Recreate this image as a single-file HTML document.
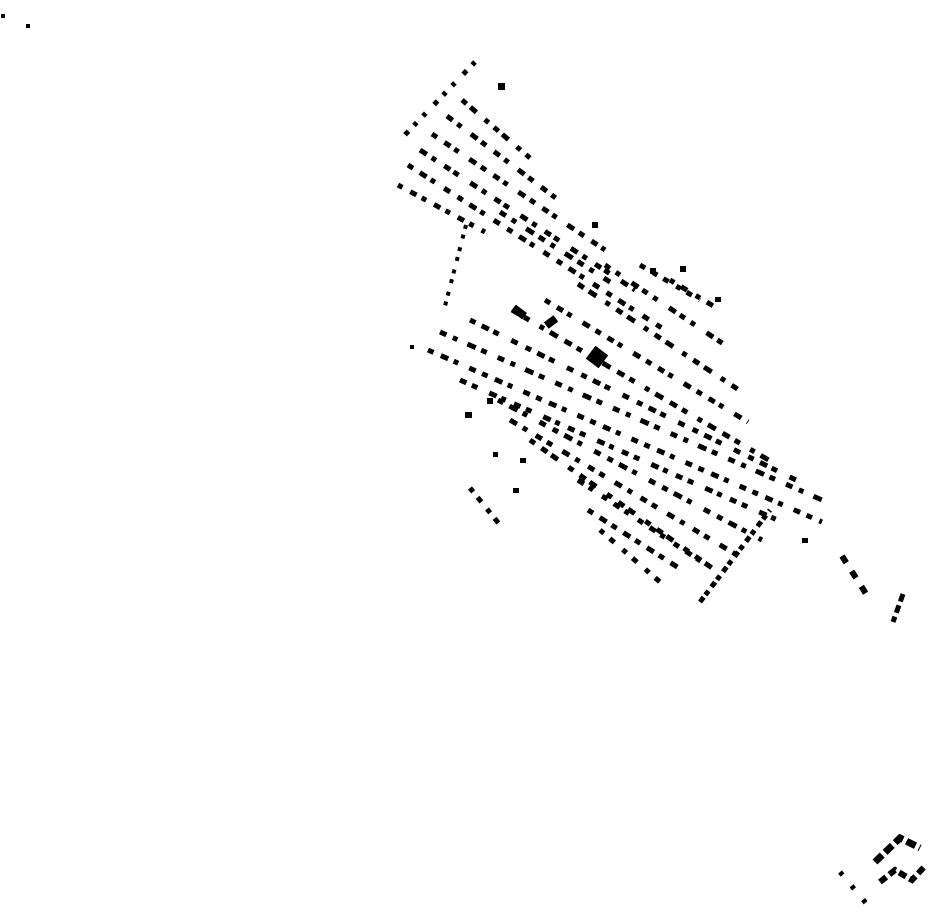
<!DOCTYPE html>
<html><head><meta charset="utf-8"><style>html,body{margin:0;padding:0;background:#fff}svg{display:block}</style></head>
<body>
<svg width="930" height="924" viewBox="0 0 930 924" xmlns="http://www.w3.org/2000/svg">
<g stroke="#000" fill="none" stroke-width="5">
 <!-- upper cluster -->
 <path d="M475 62 L400 140" stroke-dasharray="4 8 5 12 4 9"/>
 <path d="M462 100 L530 158" stroke-dasharray="6 5 8 11 5 7"/>
 <path d="M447 116 L565 205" stroke-dasharray="7 6 5 12 8 5 6 10"/>
 <path d="M432 134 L605 250" stroke-dasharray="6 9 7 5 5 13 8 6"/>
 <path d="M420 150 L635 290" stroke-dasharray="8 6 5 10 7 4 6 14"/>
 <path d="M408 165 L665 330" stroke-dasharray="6 8 8 5 5 11 7 9"/>
 <path d="M398 185 L485 232" stroke-dasharray="5 9 7 6"/>
 <path d="M466 225 L444 310" stroke-dasharray="4 6 4 9" stroke-width="4"/>
 <path d="M500 212 L610 282" stroke-dasharray="7 7 5 12 9 6"/>
 <!-- main cluster -->
 <path d="M605 265 L725 345" stroke-dasharray="6 7 5 14 8 5"/>
 <path d="M578 284 L742 392" stroke-dasharray="7 6 9 11 5 8"/>
 <path d="M545 300 L748 422" stroke-dasharray="6 8 7 5 5 13 8 7"/>
 <path d="M512 310 L772 462" stroke-dasharray="8 6 6 12 5 7 9 8"/>
 <path d="M470 320 L800 482" stroke-dasharray="6 7 8 5 6 14 7 9"/>
 <path d="M440 332 L822 500" stroke-dasharray="7 7 5 11 9 6 6 12"/>
 <path d="M428 350 L822 522" stroke-dasharray="6 8 8 6 5 12 7 7"/>
 <path d="M460 380 L782 522" stroke-dasharray="7 6 6 13 8 5 5 9"/>
 <path d="M498 400 L762 540" stroke-dasharray="6 7 9 6 5 14 7 8"/>
 <path d="M510 420 L742 558" stroke-dasharray="8 7 5 10 7 6 6 12"/>
 <path d="M530 440 L722 575" stroke-dasharray="6 8 7 5 8 13"/>
 <path d="M578 480 L702 562" stroke-dasharray="7 6 5 11 6 8"/>
 <path d="M588 510 L682 570" stroke-dasharray="6 8 8 6"/>
 <path d="M600 530 L660 582" stroke-dasharray="5 8 6 11"/>
 <path d="M700 602 L770 510" stroke-dasharray="6 3 5 5"/>
 <path d="M470 488 L500 525" stroke-dasharray="5 7 6 9"/>
 <path d="M640 265 L700 300" stroke-dasharray="6 9 5 7"/>
 <path d="M670 280 L720 310" stroke-dasharray="5 8 7 10"/>
 <path d="M842 556 L870 600" stroke-dasharray="8 10" stroke-width="6"/>
 <path d="M903 594 L893 622" stroke-dasharray="8 4"/>
 <!-- bottom right -->
 <path d="M875 862 L900 838 L920 848" stroke-dasharray="10 4" stroke-width="7"/>
 <path d="M880 882 L895 870 L912 880 L925 866" stroke-dasharray="8 4" stroke-width="6"/>
 <path d="M840 872 L870 908" stroke-dasharray="4 14"/>
</g>
<g fill="#000">
 <rect x="589" y="349" width="16" height="16" transform="rotate(37 597 357)"/>
 <rect x="498" y="83" width="7" height="7"/>
 <rect x="1" y="14" width="4" height="4"/>
 <rect x="26" y="24" width="4" height="4"/>
 <rect x="465" y="412" width="7" height="6"/>
 <rect x="487" y="398" width="6" height="6"/>
 <rect x="513" y="488" width="6" height="5"/>
 <rect x="592" y="222" width="6" height="6"/>
 <rect x="512" y="308" width="14" height="8" transform="rotate(37 519 312)"/>
 <rect x="545" y="318" width="12" height="8" transform="rotate(-37 551 322)"/>
 <rect x="410" y="345" width="4" height="4"/>
 <rect x="493" y="452" width="5" height="5"/>
 <rect x="520" y="458" width="6" height="5"/>
 <rect x="715" y="297" width="6" height="5"/>
 <rect x="802" y="538" width="6" height="5"/>
 <rect x="650" y="268" width="6" height="6"/>
 <rect x="680" y="266" width="6" height="6"/>
</g>
</svg>
</body></html>
